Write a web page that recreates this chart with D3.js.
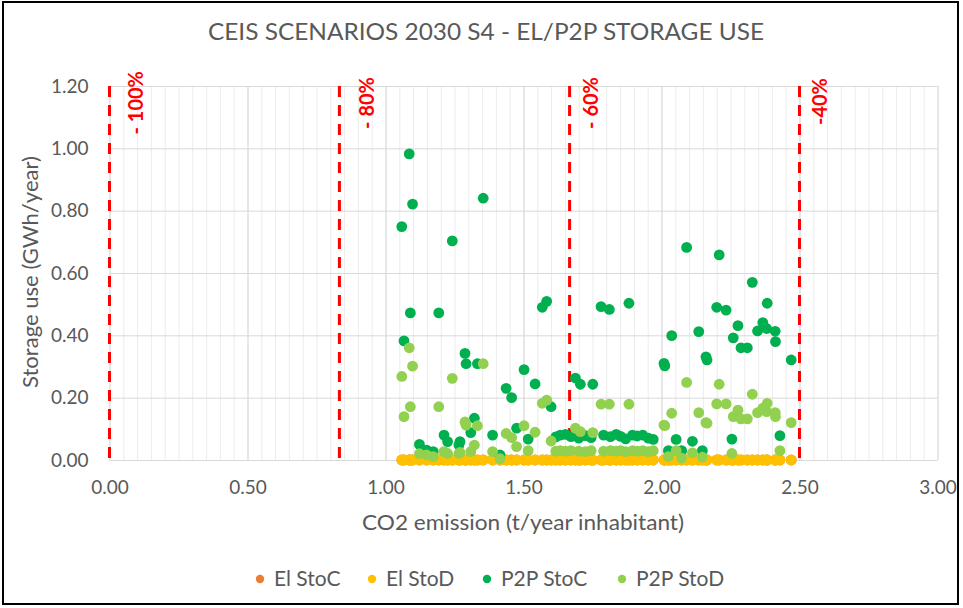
<!DOCTYPE html>
<html>
<head>
<meta charset="utf-8">
<script src="https://cdn.jsdelivr.net/npm/d3@7"></script>
<style>
  html, body { margin: 0; padding: 0; background: #fff; }
  svg { display: block; }
  text { font-family: Lato, "Open Sans", sans-serif; }
</style>
</head>
<body>
<svg id="chart" width="963" height="608"></svg>
<script>
// CO2 emission per scenario (t/year inhabitant)
const co2 = [
  1.059, 1.067, 1.086, 1.090, 1.098, 1.123, 1.149, 1.173, 1.193, 1.212,
  1.225, 1.242, 1.266, 1.270, 1.288, 1.292, 1.309, 1.322, 1.333, 1.354,
  1.388, 1.415, 1.437, 1.457, 1.475, 1.502, 1.517, 1.542, 1.568, 1.584,
  1.600, 1.617, 1.633, 1.652, 1.672, 1.688, 1.700, 1.706, 1.724, 1.745,
  1.751, 1.781, 1.790, 1.811, 1.815, 1.836, 1.852, 1.870, 1.882, 1.895,
  1.912, 1.932, 1.952, 1.970, 2.009, 2.012, 2.025, 2.037, 2.053, 2.073,
  2.091, 2.112, 2.135, 2.148, 2.161, 2.165, 2.200, 2.209, 2.234, 2.255,
  2.260, 2.277, 2.288, 2.311, 2.329, 2.348, 2.367, 2.381, 2.383, 2.412,
  2.413, 2.429, 2.470
];

// Storage use per scenario (GWh/year)
const elStoC = [
  0, 0, 0, 0, 0, 0, 0, 0, 0, 0,
  0, 0, 0, 0, 0, 0, 0, 0, 0, 0,
  0, 0, 0, 0, 0, 0, 0, 0, 0, 0,
  0, 0, 0, 0, 0, 0, 0, 0, 0, 0,
  0, 0, 0, 0, 0, 0, 0, 0, 0, 0,
  0, 0, 0, 0, 0, 0, 0, 0, 0, 0,
  0, 0, 0, 0, 0, 0, 0, 0, 0, 0,
  0, 0, 0, 0, 0, 0, 0, 0, 0, 0,
  0, 0, 0
];
const elStoD = [
  0, 0, 0, 0, 0, 0, 0, 0, 0, 0,
  0, 0, 0, 0, 0, 0, 0, 0, 0, 0,
  0, 0, 0, 0, 0, 0, 0, 0, 0, 0,
  0, 0, 0, 0, 0, 0, 0, 0, 0, 0,
  0, 0, 0, 0, 0, 0, 0, 0, 0, 0,
  0, 0, 0, 0, 0, 0, 0, 0, 0, 0,
  0, 0, 0, 0, 0, 0, 0, 0, 0, 0,
  0, 0, 0, 0, 0, 0, 0, 0, 0, 0,
  0, 0, 0
];
const p2pStoC = [
  0.749, 0.382, 0.982, 0.472, 0.821, 0.050, 0.032, 0.027, 0.472, 0.080,
  0.059, 0.703, 0.048, 0.059, 0.342, 0.309, 0.088, 0.134, 0.309, 0.840,
  0.080, 0.016, 0.230, 0.200, 0.102, 0.290, 0.067, 0.244, 0.490, 0.509,
  0.171, 0.074, 0.080, 0.082, 0.075, 0.263, 0.070, 0.243, 0.078, 0.072,
  0.243, 0.492, 0.080, 0.483, 0.075, 0.082, 0.076, 0.068, 0.503, 0.080,
  0.077, 0.080, 0.070, 0.066, 0.310, 0.302, 0.030, 0.399, 0.066, 0.030,
  0.682, 0.060, 0.412, 0.030, 0.331, 0.321, 0.490, 0.658, 0.481, 0.067,
  0.392, 0.431, 0.360, 0.360, 0.570, 0.414, 0.441, 0.422, 0.503, 0.413,
  0.380, 0.078, 0.321
];
const p2pStoD = [
  0.268, 0.139, 0.360, 0.171, 0.301, 0.020, 0.016, 0.011, 0.171, 0.027,
  0.021, 0.262, 0.021, 0.024, 0.122, 0.112, 0.027, 0.048, 0.110, 0.309,
  0.027, 0.004, 0.085, 0.072, 0.043, 0.110, 0.030, 0.089, 0.182, 0.192,
  0.061, 0.028, 0.030, 0.028, 0.030, 0.102, 0.028, 0.091, 0.027, 0.030,
  0.088, 0.179, 0.028, 0.179, 0.030, 0.028, 0.030, 0.027, 0.179, 0.030,
  0.028, 0.030, 0.027, 0.030, 0.112, 0.110, 0.011, 0.150, 0.030, 0.006,
  0.249, 0.023, 0.152, 0.009, 0.120, 0.118, 0.180, 0.243, 0.180, 0.021,
  0.139, 0.160, 0.132, 0.132, 0.211, 0.152, 0.166, 0.155, 0.182, 0.152,
  0.139, 0.030, 0.120
];

// Reduction targets drawn as dashed reference lines
const targetX = [0, 0.833, 1.667, 2.5];
const targetLabels = ["- 100%", "- 80%", "- 60%", "-40%"];

const xTicks = [0, 0.5, 1, 1.5, 2, 2.5, 3];
const yTicks = [0, 0.2, 0.4, 0.6, 0.8, 1.0, 1.2];

const seriesNames = ["El StoC", "El StoD", "P2P StoC", "P2P StoD"];
const seriesColors = ["#ED7D31", "#FFC000", "#00B050", "#92D050"];
const seriesValues = [elStoC, elStoD, p2pStoC, p2pStoD];

const svg = d3.select("#chart");
const W = 963, H = 608;
const plot = { left: 109.5, right: 937.5, top: 86, bottom: 460 };

const x = d3.scaleLinear().domain([0, 3]).range([plot.left, plot.right]);
const y = d3.scaleLinear().domain([0, 1.2]).range([plot.bottom, plot.top]);

// background and outer frame
svg.append("rect").attr("width", W).attr("height", H).attr("fill", "#fff");
svg.append("rect")
  .attr("x", 3).attr("y", 2).attr("width", 955).attr("height", 602)
  .attr("fill", "#fff").attr("stroke", "#000").attr("stroke-width", 2);

// title
svg.append("text")
  .attr("x", 486).attr("y", 40)
  .attr("text-anchor", "middle")
  .attr("font-size", 24).attr("fill", "#595959")
  .attr("textLength", 556).attr("lengthAdjust", "spacingAndGlyphs")
  .text("CEIS SCENARIOS 2030 S4 - EL/P2P STORAGE USE");

// minor vertical gridlines
const minorX = d3.range(0, 61).map(i => i * 0.05);
svg.append("g")
  .attr("transform", `translate(0,${plot.bottom})`)
  .call(d3.axisBottom(x).tickValues(minorX).tickSize(-(plot.bottom - plot.top)).tickFormat(""))
  .call(g => g.select(".domain").remove())
  .call(g => g.selectAll("line").attr("stroke", "#ececec").attr("stroke-width", 1));

// major vertical gridlines
svg.append("g")
  .attr("transform", `translate(0,${plot.bottom})`)
  .call(d3.axisBottom(x).tickValues(xTicks).tickSize(-(plot.bottom - plot.top)).tickFormat(""))
  .call(g => g.select(".domain").remove())
  .call(g => g.selectAll("line").attr("stroke", "#d9d9d9").attr("stroke-width", 1));

// horizontal gridlines
svg.append("g")
  .attr("transform", `translate(${plot.left},0)`)
  .call(d3.axisLeft(y).tickValues(yTicks).tickSize(-(plot.right - plot.left)).tickFormat(""))
  .call(g => g.select(".domain").remove())
  .call(g => g.selectAll("line").attr("stroke", "#d9d9d9").attr("stroke-width", 1));

// tick labels
svg.append("g")
  .attr("transform", `translate(${plot.left},0)`)
  .call(d3.axisLeft(y).tickValues(yTicks).tickSize(0).tickPadding(21).tickFormat(d3.format(".2f")))
  .call(g => g.select(".domain").remove())
  .call(g => g.selectAll("text")
    .attr("font-family", "Lato, sans-serif").attr("font-size", 19).attr("fill", "#595959"));

svg.append("g")
  .attr("transform", `translate(0,${plot.bottom})`)
  .call(d3.axisBottom(x).tickValues(xTicks).tickSize(0).tickPadding(21).tickFormat(d3.format(".2f")))
  .call(g => g.select(".domain").remove())
  .call(g => g.selectAll("text")
    .attr("font-family", "Lato, sans-serif").attr("font-size", 19).attr("fill", "#595959"));

// axis titles
svg.append("text")
  .attr("x", 523).attr("y", 530)
  .attr("text-anchor", "middle")
  .attr("font-size", 22).attr("fill", "#595959")
  .attr("textLength", 322).attr("lengthAdjust", "spacingAndGlyphs")
  .text("CO2 emission (t/year inhabitant)");

svg.append("text")
  .attr("transform", `translate(38,272) rotate(-90)`)
  .attr("text-anchor", "middle")
  .attr("font-size", 22).attr("fill", "#595959")
  .attr("textLength", 232).attr("lengthAdjust", "spacingAndGlyphs")
  .text("Storage use (GWh/year)");

// reduction target lines
const labelOffset = [33, 35, 28, 27];
const labelLift = [15, 9, 9, 8];
const targets = svg.append("g");
targetX.forEach((tx, i) => {
  targets.append("line")
    .attr("x1", x(tx)).attr("x2", x(tx))
    .attr("y1", y(1.2)).attr("y2", y(-0.015))
    .attr("stroke", "#FF0000").attr("stroke-width", 3)
    .attr("stroke-dasharray", "11,8");
  targets.append("text")
    .attr("transform", `translate(${x(tx) + labelOffset[i]},${y(1.2) - labelLift[i]}) rotate(-90)`)
    .attr("text-anchor", "end")
    .attr("font-size", 20).attr("font-weight", "bold").attr("fill", "#FF0000")
    .text(targetLabels[i]);
});

// scatter points, series drawn in legend order
const marks = svg.append("g");
seriesValues.forEach((vals, s) => {
  marks.append("g")
    .selectAll("circle")
    .data(co2.map((c, i) => [c, vals[i]]))
    .join("circle")
    .attr("cx", d => x(d[0]))
    .attr("cy", d => y(d[1]))
    .attr("r", 5.4)
    .attr("fill", seriesColors[s]);
});

// legend
const legendX = [260, 372, 487, 622];
const legend = svg.append("g");
seriesNames.forEach((name, i) => {
  legend.append("circle")
    .attr("cx", legendX[i]).attr("cy", 579).attr("r", 4.2)
    .attr("fill", seriesColors[i]);
  legend.append("text")
    .attr("x", legendX[i] + 14).attr("y", 586)
    .attr("font-size", 21).attr("fill", "#595959")
    .text(name);
});
</script>
</body>
</html>
